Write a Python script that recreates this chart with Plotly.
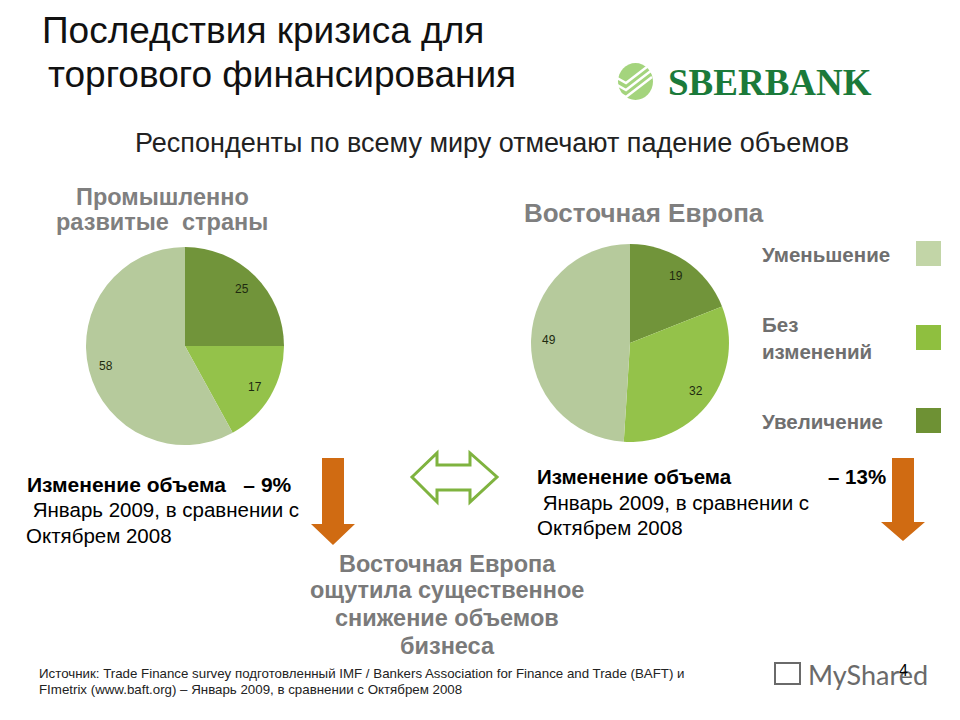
import math
import plotly.graph_objects as go

# ---------------- data ----------------
categories = ["Увеличение", "Без изменений", "Уменьшение"]   # clockwise from 12 o'clock
developed_values = [25, 17, 58]
eastern_values = [19, 32, 49]
slice_colors = ["#71943a", "#94c24a", "#b6ca9c"]
legend_labels = ["Уменьшение", "Без<br>изменений", "Увеличение"]
legend_colors = ["#c2d5a7", "#8fbf3f", "#6e9134"]

W, H = 960, 720
FONT = "Liberation Sans, Arial, sans-serif"


def px(x):
    return x / W


def py(y):
    return 1 - y / H


fig = go.Figure()

pie_common = dict(
    sort=False,
    direction="clockwise",
    rotation=0,
    marker=dict(colors=slice_colors, line=dict(width=0)),
    textinfo="none",
    hoverinfo="skip",
    showlegend=False,
)

pies = [
    (developed_values, (86, 284, 247, 445)),
    (eastern_values, (531, 729, 244, 442)),
]
ann = []
for vals, (x0, x1, y0, y1) in pies:
    fig.add_trace(go.Pie(labels=categories, values=vals,
                         domain=dict(x=[px(x0), px(x1)], y=[py(y1), py(y0)]), **pie_common))
    # value labels near the outer part of each slice (Excel "best fit" look)
    cx, cy, r = (x0 + x1) / 2, (y0 + y1) / 2, (x1 - x0) / 2
    total = sum(vals)
    cum = 0
    for v in vals:
        th = 2 * math.pi * (cum + v / 2) / total
        cum += v
        lx = cx + 0.82 * r * math.sin(th)
        ly = cy - 0.82 * r * math.cos(th)
        ann.append(dict(x=px(lx), y=py(ly), xref="paper", yref="paper", text=str(v), showarrow=False,
                        xanchor="center", yanchor="middle",
                        font=dict(family=FONT, size=12, color="#1e2a10")))


def text(x, y, s, size, color="#000000", bold=False, xanchor="left", family=FONT, align="left"):
    if bold:
        s = "<b>" + s + "</b>"
    ann.append(dict(x=px(x), y=py(y), xref="paper", yref="paper", text=s, showarrow=False,
                    xanchor=xanchor, yanchor="middle", align=align,
                    font=dict(family=family, size=size, color=color)))


# titles
text(40, 31, "Последствия кризиса для", 37, "#111111")
text(46, 75, "торгового финансирования", 37, "#111111")
text(492, 143, "Респонденты по всему миру отмечают падение объемов", 27, "#222222", xanchor="center")

# pie headings
text(162, 197, "Промышленно", 23.5, "#7f7f7f", bold=True, xanchor="center")
text(162, 222, "развитые  страны", 23.5, "#7f7f7f", bold=True, xanchor="center")
text(644, 213, "Восточная Европа", 26, "#7f7f7f", bold=True, xanchor="center")

# legend
legend_y = [254, 338, 421]
for lab, col, yy in zip(legend_labels, legend_colors, legend_y):
    text(760, yy, lab, 20.5, "#6f6f6f", bold=True)
    fig.add_shape(type="rect", xref="paper", yref="paper",
                  x0=px(916), x1=px(941), y0=py(yy - 13), y1=py(yy + 12),
                  fillcolor=col, line=dict(width=0))

# left block
text(25, 484, "Изменение объема   – 9%", 21, "#000000", bold=True)
text(25, 509, " Январь 2009, в сравнении с", 20.5, "#000000")
text(24, 535, "Октябрем 2008", 20.5, "#000000")

# right block
text(535, 476, "Изменение объема", 20.5, "#000000", bold=True)
text(826, 476, "– 13%", 20.5, "#000000", bold=True)
text(535, 502, " Январь 2009, в сравнении с", 20.5, "#000000")
text(535, 527, "Октябрем 2008", 20.5, "#000000")

# bottom conclusion
for s, yy in zip(["Восточная Европа", "ощутила существенное", "снижение объемов", "бизнеса"],
                 [564, 590, 618, 646]):
    text(447, yy, s, 23.5, "#7a7a7a", bold=True, xanchor="center")

# source
text(37, 673, "Источник: Trade Finance survey подготовленный IMF / Bankers Association for Finance and Trade (BAFT) и", 13.3, "#222222")
text(37, 689, "FImetrix (www.baft.org) – Январь 2009, в сравнении с Октябрем 2008", 13.3, "#222222")

# logo text
text(666, 82, "SBERBANK", 37, "#1b7a3a", bold=True, family="Liberation Serif, DejaVu Serif, serif")

# watermark
text(806, 674, "MyShared", 27, "#6a6a6a", family="Lato, Open Sans, sans-serif")
text(897, 670, "4", 16, "#000000")


def path(points, close=True):
    s = "M " + " L ".join(f"{px(x):.5f},{py(y):.5f}" for x, y in points)
    return s + (" Z" if close else "")


shapes = []
# gold line under title
shapes.append(dict(type="line", xref="paper", yref="paper", x0=px(85), x1=px(600), y0=py(104), y1=py(104),
                   line=dict(color="#c9ad52", width=2)))
# sberbank underline
shapes.append(dict(type="line", xref="paper", yref="paper", x0=px(668), x1=px(866), y0=py(102), y1=py(102),
                   line=dict(color="#1b7a3a", width=3)))
# logo circle
shapes.append(dict(type="circle", xref="paper", yref="paper", x0=px(605), x1=px(655), y0=py(111), y1=py(61),
                   fillcolor="#2b973c", line=dict(width=0)))
shapes.append(dict(type="circle", xref="paper", yref="paper", x0=px(618), x1=px(653), y0=py(100), y1=py(63),
                   fillcolor="#7dc246", opacity=0.7, line=dict(width=0)))
for k in range(3):
    dy = k * 7
    shapes.append(dict(type="path", xref="paper", yref="paper",
                       path=path([(603, 70 + dy), (626, 83 + dy), (652, 63 + dy)], close=False),
                       line=dict(color="#ffffff", width=2.5)))

# orange arrows
for cx, top, neck, tip in [(333, 458, 524, 545), (903, 458, 522, 541)]:
    shapes.append(dict(type="path", xref="paper", yref="paper",
                       path=path([(cx - 11, top), (cx + 11, top), (cx + 11, neck), (cx + 22, neck),
                                  (cx, tip), (cx - 22, neck), (cx - 11, neck)]),
                       fillcolor="#d06b12", line=dict(width=0)))

# double arrow outline
shapes.append(dict(type="path", xref="paper", yref="paper",
                   path=path([(412, 477), (437, 453), (437, 465), (470, 465), (470, 453), (497, 477),
                              (470, 502), (470, 490), (437, 490), (437, 502)]),
                   fillcolor="rgba(0,0,0,0)", line=dict(color="#7fb33f", width=3)))

# watermark icon
shapes.append(dict(type="rect", xref="paper", yref="paper", x0=px(775), x1=px(800), y0=py(684), y1=py(663),
                   fillcolor="rgba(0,0,0,0)", line=dict(color="#6a6a6a", width=2)))

fig.update_layout(
    width=W, height=H,
    margin=dict(l=0, r=0, t=0, b=0),
    paper_bgcolor="#ffffff",
    plot_bgcolor="#ffffff",
    annotations=ann,
    shapes=shapes,
    xaxis=dict(visible=False),
    yaxis=dict(visible=False),
)

fig.write_html("out.html", config={"displayModeBar": False},
               post_script="document.body.style.margin='0px';")
